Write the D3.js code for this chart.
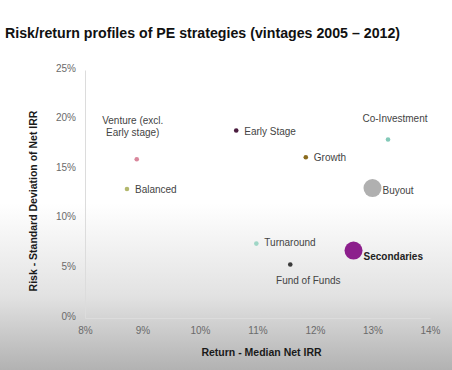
<!DOCTYPE html>
<html>
<head>
<meta charset="utf-8">
<script src="https://cdn.jsdelivr.net/npm/d3@7"></script>
<style>
  html, body { margin: 0; padding: 0; }
  body { width: 452px; height: 370px; overflow: hidden; font-family: "Liberation Sans", Arial, sans-serif; }
</style>
</head>
<body>
<div id="chart"></div>
<script>
// risk / return by PE strategy (vintages 2005 - 2012)
const strategies = ["Venture (excl. Early stage)", "Balanced", "Early Stage", "Growth", "Co-Investment",
                    "Buyout", "Turnaround", "Fund of Funds", "Secondaries"];
const returns = [8.9, 8.73, 10.63, 11.84, 13.27, 13.0, 10.98, 11.57, 12.67];   // median net IRR, %
const risks   = [16.0, 13.0, 18.9, 16.2, 18.0, 13.1, 7.5, 5.4, 6.8];          // std dev of net IRR, %
const weights = [1, 1, 1, 1, 1, 4, 1, 1, 4];                                   // bubble size
const xTicks = [8, 9, 10, 11, 12, 13, 14];
const yTicks = [0, 5, 10, 15, 20, 25];

const colors = ["#d9879c", "#b3b86e", "#4b1d3f", "#8a6b1e", "#83c9b8",
                "#b0b0b0", "#9fd6c6", "#3a3a3a", "#8c1f8c"];

// label placement (layout only)
const labelPos = {
  "Venture (excl. Early stage)": {dx: -4, dy: -35, anchor: "middle"},
  "Balanced": {dx: 8, dy: 4, anchor: "start"},
  "Early Stage": {dx: 8, dy: 4, anchor: "start"},
  "Growth": {dx: 8, dy: 4, anchor: "start"},
  "Co-Investment": {dx: 7, dy: -17, anchor: "middle"},
  "Buyout": {dx: 10, dy: 6, anchor: "start"},
  "Turnaround": {dx: 8, dy: 2, anchor: "start"},
  "Fund of Funds": {dx: 18, dy: 20, anchor: "middle"},
  "Secondaries": {dx: 10, dy: 9, anchor: "start", bold: true}
};

const W = 452, H = 370;
var margin = {top: 70, right: 22, bottom: 52, left: 85},
    width = W - margin.left - margin.right,
    height = H - margin.top - margin.bottom;

var root = d3.select("#chart").append("svg")
    .attr("width", W)
    .attr("height", H);

// faded photo-like background
var grad = root.append("defs").append("linearGradient")
    .attr("id", "bg").attr("x1", 0).attr("y1", 0).attr("x2", 0).attr("y2", 1);
grad.append("stop").attr("offset", "0%").attr("stop-color", "#ffffff");
grad.append("stop").attr("offset", "55%").attr("stop-color", "#ffffff");
grad.append("stop").attr("offset", "80%").attr("stop-color", "#e2e2e2");
grad.append("stop").attr("offset", "100%").attr("stop-color", "#b2b2b2");
root.append("rect").attr("width", W).attr("height", H).attr("fill", "url(#bg)");

root.append("text")
    .attr("x", 5).attr("y", 38)
    .style("font-size", "14.2px").style("font-weight", "bold").attr("fill", "#111")
    .text("Risk/return profiles of PE strategies (vintages 2005 \u2013 2012)");

var svg = root.append("g")
    .attr("transform", "translate(" + margin.left + "," + margin.top + ")");

const x = d3.scaleLinear().domain([8, 14]).range([0, width]);
const y = d3.scaleLinear().domain([0, 25]).range([height, 0]);
const r = d3.scaleSqrt().domain([0, 4]).range([0, 9]);

// x axis
var xa = svg.append("g")
    .attr("transform", "translate(0," + height + ")")
    .call(d3.axisBottom(x).tickValues(xTicks).tickSize(0).tickPadding(9).tickFormat(d => d + "%"));
xa.select(".domain").attr("stroke", "#dcdcdc");
xa.selectAll("text").attr("fill", "#6a6a6a").style("font-size", "10px");

// y axis
var ya = svg.append("g")
    .call(d3.axisLeft(y).tickValues(yTicks).tickSize(0).tickPadding(9).tickFormat(d => d + "%"));
ya.select(".domain").attr("stroke", "#dcdcdc");
ya.selectAll("text").attr("fill", "#6a6a6a").style("font-size", "10px").attr("dy", "0.1em");

svg.append("text")
    .attr("x", width / 2 + 4).attr("y", height + 38)
    .attr("text-anchor", "middle")
    .style("font-size", "10.5px").style("font-weight", "bold").attr("fill", "#1a1a1a")
    .text("Return - Median Net IRR");

svg.append("text")
    .attr("transform", "rotate(-90)")
    .attr("x", -131).attr("y", -48)
    .attr("text-anchor", "middle")
    .style("font-size", "10.5px").style("font-weight", "bold").attr("fill", "#1a1a1a")
    .text("Risk - Standard Deviation of Net IRR");

const idx = d3.range(strategies.length);

svg.selectAll(".dot").data(idx).enter().append("circle")
    .attr("class", "dot")
    .attr("cx", i => x(returns[i]))
    .attr("cy", i => y(risks[i]))
    .attr("r", i => weights[i] > 1 ? r(weights[i]) : 2.3)
    .attr("fill", i => colors[i]);

svg.selectAll(".lbl").data(idx).enter().append("text")
    .attr("class", "lbl")
    .attr("x", i => x(returns[i]) + labelPos[strategies[i]].dx)
    .attr("y", i => y(risks[i]) + labelPos[strategies[i]].dy)
    .attr("text-anchor", i => labelPos[strategies[i]].anchor)
    .style("font-size", "10px")
    .style("font-weight", i => labelPos[strategies[i]].bold ? "bold" : "normal")
    .attr("fill", i => labelPos[strategies[i]].bold ? "#222" : "#444")
    .each(function(i) {
      var t = d3.select(this), name = strategies[i];
      if (name.indexOf("(") > 0) {
        var parts = ["Venture (excl.", "Early stage)"];
        parts.forEach((p, k) => t.append("tspan")
          .attr("x", t.attr("x")).attr("dy", k ? "1.2em" : 0).text(p));
      } else {
        t.text(name);
      }
    });
</script>
</body>
</html>
